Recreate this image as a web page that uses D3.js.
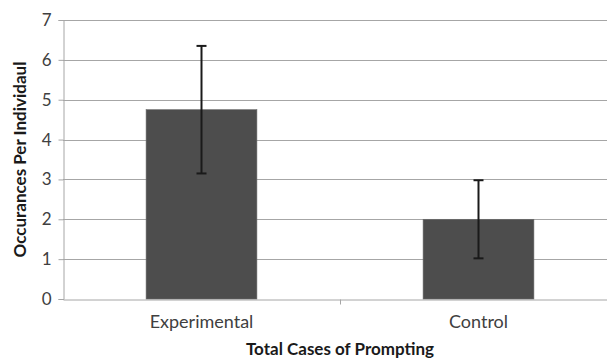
<!DOCTYPE html>
<html>
<head>
<meta charset="utf-8">
<script src="https://cdn.jsdelivr.net/npm/d3@7"></script>
<style>
  body { margin: 0; background: #fff; }
  svg text { font-family: Lato, "Open Sans", sans-serif; }
</style>
</head>
<body>
<div class="chart"></div>
<script>
// data
let categories = ["Experimental", "Control"]
let means = [4.75, 2.0]
let errors = [1.6, 0.98]
let yTicks = [0, 1, 2, 3, 4, 5, 6, 7]

let width = 607, height = 361
let margin = { left: 63, right: -10, top: 20, bottom: 62 }

let svg = d3.select(".chart")
    .append("svg")
    .attr("width", width)
    .attr("height", height)

let x = d3.scaleBand()
    .domain(categories)
    .range([margin.left, width - margin.right])
    .paddingInner(0.6)
    .paddingOuter(0.3)

let y = d3.scaleLinear()
    .domain([0, 7])
    .range([height - margin.bottom, margin.top])

// gridlines
svg.append("g")
    .selectAll("line")
    .data(yTicks.filter(d => d > 0))
    .enter()
    .append("line")
    .attr("x1", margin.left)
    .attr("x2", width - margin.right)
    .attr("y1", d => Math.round(y(d)) + 0.5)
    .attr("y2", d => Math.round(y(d)) + 0.5)
    .attr("stroke", "#a6a6a6")
    .attr("stroke-width", 1)

// y axis
let yAxis = svg.append("g")
    .attr("transform", `translate(${margin.left + 0.5},0)`)
    .call(d3.axisLeft(y).tickValues(yTicks).tickSize(5).tickPadding(7).tickFormat(d3.format("d")))
yAxis.select(".domain").attr("stroke", "#a6a6a6")
yAxis.selectAll(".tick line").attr("stroke", "#a6a6a6")
yAxis.selectAll(".tick text").attr("font-size", 17).attr("fill", "#404040")

// x axis
let xAxis = svg.append("g")
    .attr("transform", `translate(0,${Math.round(y(0)) + 0.5})`)
    .call(d3.axisBottom(x).tickSize(0).tickPadding(16))
xAxis.select(".domain").attr("stroke", "#a6a6a6")
xAxis.selectAll(".tick text").attr("font-size", 18).attr("fill", "#404040")
// divider tick between categories
let mid = (x(categories[0]) + x.bandwidth() + x(categories[1])) / 2
xAxis.append("line")
    .attr("x1", Math.round(mid) + 0.5)
    .attr("x2", Math.round(mid) + 0.5)
    .attr("y1", 0)
    .attr("y2", 5)
    .attr("stroke", "#a6a6a6")

// bars
svg.append("g")
    .selectAll("rect")
    .data(categories)
    .enter()
    .append("rect")
    .attr("x", d => x(d))
    .attr("y", (d, i) => y(means[i]))
    .attr("width", x.bandwidth())
    .attr("height", (d, i) => y(0) - y(means[i]))
    .attr("fill", "#4d4d4d")
    .attr("stroke", "#6a6a6a")
    .attr("stroke-width", 0.6)

// error bars
let err = svg.append("g")
    .selectAll("g")
    .data(categories)
    .enter()
    .append("g")
err.append("line")
    .attr("x1", d => x(d) + x.bandwidth() / 2)
    .attr("x2", d => x(d) + x.bandwidth() / 2)
    .attr("y1", (d, i) => y(means[i] + errors[i]))
    .attr("y2", (d, i) => y(means[i] - errors[i]))
    .attr("stroke", "#1a1a1a")
    .attr("stroke-width", 2)
err.selectAll(".cap")
    .data((d, i) => [[d, means[i] + errors[i]], [d, means[i] - errors[i]]])
    .enter()
    .append("line")
    .attr("class", "cap")
    .attr("x1", d => x(d[0]) + x.bandwidth() / 2 - 5)
    .attr("x2", d => x(d[0]) + x.bandwidth() / 2 + 5)
    .attr("y1", d => y(d[1]))
    .attr("y2", d => y(d[1]))
    .attr("stroke", "#1a1a1a")
    .attr("stroke-width", 2)

// axis titles
svg.append("text")
    .attr("x", 340)
    .attr("y", 355)
    .attr("text-anchor", "middle")
    .attr("font-size", 17)
    .attr("font-weight", "bold")
    .attr("fill", "#1a1a1a")
    .text("Total Cases of Prompting")

svg.append("text")
    .attr("transform", `translate(26,${(y(0) + y(7)) / 2}) rotate(-90)`)
    .attr("text-anchor", "middle")
    .attr("font-size", 17)
    .attr("font-weight", "bold")
    .attr("fill", "#1a1a1a")
    .text("Occurances Per Individaul")
</script>
</body>
</html>
